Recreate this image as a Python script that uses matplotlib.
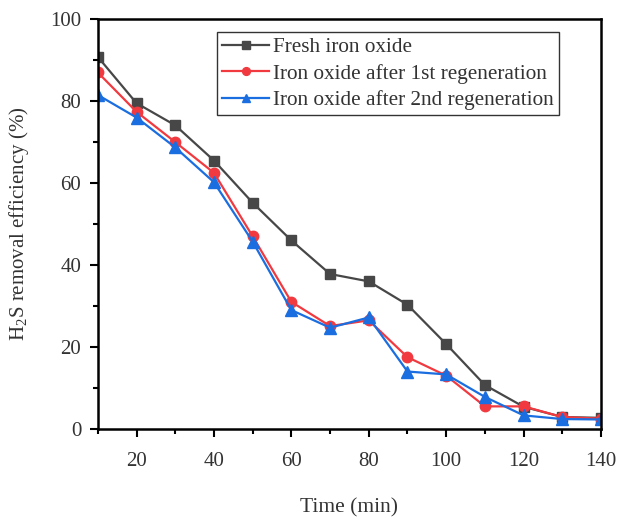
import matplotlib
matplotlib.use("Agg")
import matplotlib.pyplot as plt
from matplotlib.ticker import MultipleLocator

time_min = [10, 20, 30, 40, 50, 60, 70, 80, 90, 100, 110, 120, 130, 140]
fresh = [90.8, 79.5, 74.1, 65.5, 55.2, 46.0, 37.8, 36.0, 30.3, 20.7, 10.7, 5.4, 2.9, 2.7]
regen1 = [87.0, 77.4, 70.0, 62.5, 47.0, 31.0, 25.1, 26.5, 17.5, 13.0, 5.5, 5.5, 2.9, 2.5]
regen2 = [81.5, 76.0, 68.7, 60.2, 45.7, 29.0, 24.7, 27.2, 14.0, 13.3, 7.8, 3.3, 2.4, 2.3]
labels = ["Fresh iron oxide", "Iron oxide after 1st regeneration",
          "Iron oxide after 2nd regeneration"]

plt.rcParams['font.family'] = ['Liberation Serif', 'DejaVu Serif']
plt.rcParams['mathtext.fontset'] = 'custom'
plt.rcParams['mathtext.rm'] = 'Liberation Serif'

fig = plt.figure(figsize=(6.19, 5.18), dpi=100)
ax = fig.add_axes([0.158, 0.172, 0.813, 0.791])

ax.plot(time_min, fresh, color='#474747', marker='s', markersize=7, lw=1.6, label=labels[0])
ax.plot(time_min, regen1, color='#f03a40', marker='o', markersize=7.5, lw=1.6, label=labels[1])
ax.plot(time_min, regen2, color='#1a6ee0', marker='^', markersize=8, lw=1.6, label=labels[2])

ax.set_xlim(10, 140)
ax.set_ylim(0, 100)
ax.xaxis.set_major_locator(MultipleLocator(20))
ax.xaxis.set_minor_locator(MultipleLocator(10))
ax.yaxis.set_major_locator(MultipleLocator(20))
ax.yaxis.set_minor_locator(MultipleLocator(10))
ax.tick_params(axis='both', which='major', direction='out', length=6, width=1.5,
               labelsize=15, colors='black', labelcolor='#333333')
ax.tick_params(axis='x', which='major', pad=10.5)
ax.tick_params(axis='y', which='major', pad=6)
ax.tick_params(axis='both', which='minor', direction='out', length=3.5, width=1.5)
for s in ax.spines.values():
    s.set_linewidth(1.8)

ax.set_xlabel("Time (min)", fontsize=15.5, color='#333333', labelpad=20)
ax.set_ylabel("H$_2$S removal efficiency (%)", fontsize=15, color='#333333', labelpad=14)

leg = ax.legend(loc='upper left', bbox_to_anchor=(0.2366, 0.968), fontsize=15.3,
                frameon=True, fancybox=False, edgecolor='black', handlelength=2.2,
                handletextpad=0.2, borderpad=0.25, labelspacing=0.3, borderaxespad=0,
                markerscale=0.75)
leg.get_frame().set_linewidth(1.0)
for t in leg.get_texts():
    t.set_color('#333333')

fig.savefig("out.png", dpi=100)
